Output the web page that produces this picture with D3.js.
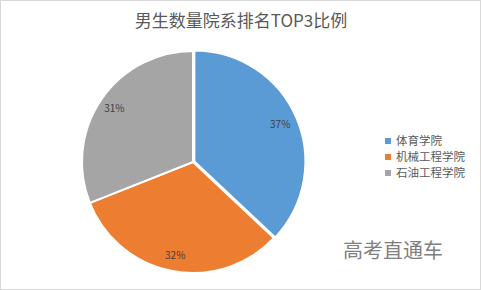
<!DOCTYPE html>
<html>
<head>
<meta charset="utf-8">
<script src="https://cdn.jsdelivr.net/npm/d3@7"></script>
<style>
  body { margin: 0; background: #fff; }
  svg { display: block; font-family: "Noto Sans CJK SC", "Noto Sans", sans-serif; }
</style>
</head>
<body>
<svg width="481" height="290"></svg>
<script>
const categories = ['体育学院', '机械工程学院', '石油工程学院'];
const values = [37, 32, 31];
const colors = ['#5B9BD5', '#ED7D31', '#A5A5A5'];

const svg = d3.select('svg');
const W = 481, H = 290;

// frame
svg.append('rect')
  .attr('x', 0.5).attr('y', 0.5)
  .attr('width', W - 1).attr('height', H - 1)
  .attr('fill', '#fff')
  .attr('stroke', '#d9d9d9');

svg.append('text')
  .attr('x', 241).attr('y', 27)
  .attr('text-anchor', 'middle')
  .attr('font-size', 17)
  .attr('fill', '#595959')
  .text('男生数量院系排名TOP3比例');

const cx = 193, cy = 162, r = 111;
const pie = d3.pie().sort(null).value(d => d)(values);
const arc = d3.arc().innerRadius(0).outerRadius(r);
const labelArc = d3.arc().innerRadius(95).outerRadius(95);

const g = svg.append('g').attr('transform', `translate(${cx}, ${cy})`);

g.selectAll('path')
  .data(pie)
  .enter()
  .append('path')
  .attr('d', arc)
  .attr('fill', (d, i) => colors[i])
  .attr('stroke', '#fff')
  .attr('stroke-width', 2)
  .attr('transform', (d, i) => {
    if (i !== 0) return null;
    const [x, y] = d3.arc().innerRadius(0).outerRadius(3).centroid(d);
    return `translate(${x}, ${y})`;
  });

g.selectAll('.lbl')
  .data(pie)
  .enter()
  .append('text')
  .attr('class', 'lbl')
  .attr('transform', d => `translate(${labelArc.centroid(d)})`)
  .attr('text-anchor', 'middle')
  .attr('dy', '0.35em')
  .attr('font-size', 10)
  .attr('fill', '#404040')
  .text(d => d.data + '%');

// legend
const legend = svg.append('g').attr('transform', 'translate(385, 141)');
const rows = legend.selectAll('g')
  .data(categories)
  .enter()
  .append('g')
  .attr('transform', (d, i) => `translate(0, ${i * 16})`);

rows.append('rect')
  .attr('x', 0).attr('y', -3)
  .attr('width', 6).attr('height', 6)
  .attr('fill', (d, i) => colors[i]);

rows.append('text')
  .attr('x', 11).attr('dy', '0.35em')
  .attr('font-size', 11.5)
  .attr('fill', '#595959')
  .text(d => d);

svg.append('text')
  .attr('x', 343).attr('y', 258)
  .attr('font-size', 20)
  .attr('fill', '#808080')
  .text('高考直通车');
</script>
</body>
</html>
